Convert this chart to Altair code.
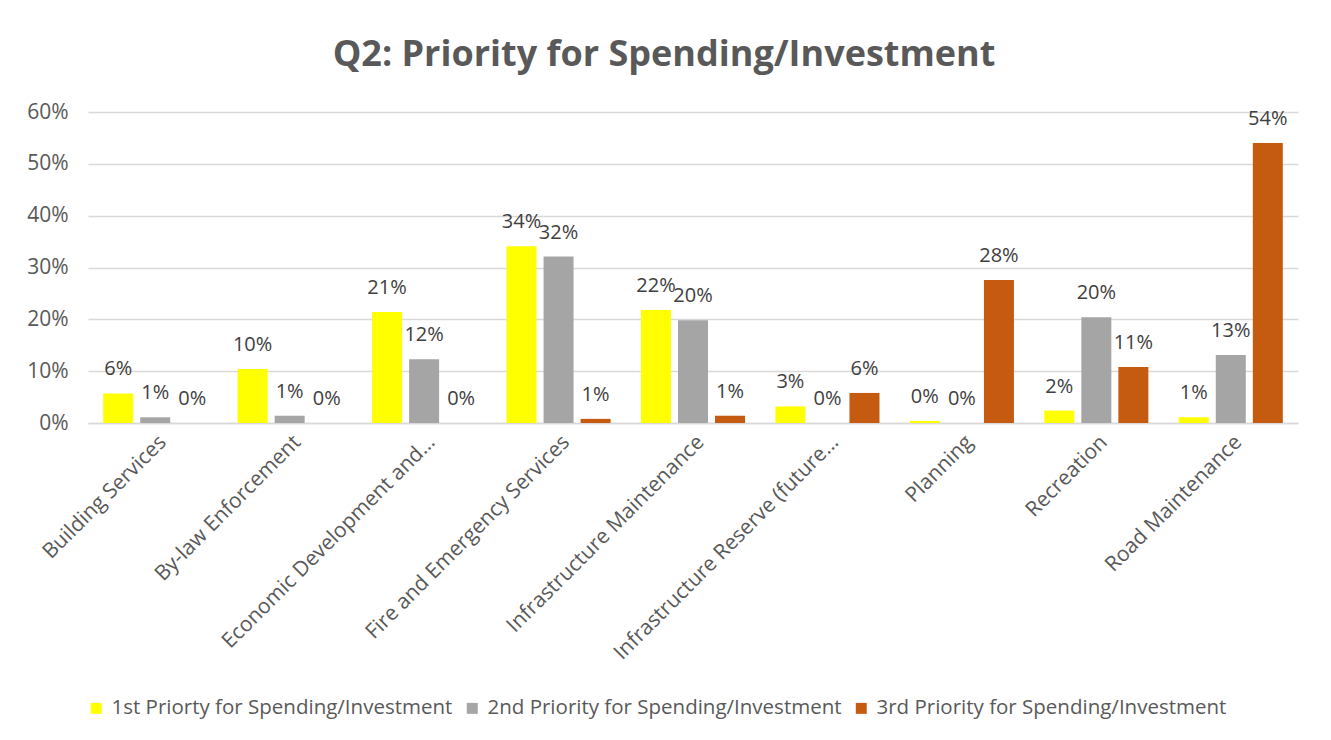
import altair as alt
import pandas as pd

categories = [
    "Building Services",
    "By-law Enforcement",
    "Economic Development and…",
    "Fire and Emergency Services",
    "Infrastructure Maintenance",
    "Infrastructure Reserve (future…",
    "Planning",
    "Recreation",
    "Road Maintenance",
]
series = [
    "1st Priorty for Spending/Investment",
    "2nd Priority for Spending/Investment",
    "3rd Priority for Spending/Investment",
]
first = [0.057, 0.104, 0.214, 0.341, 0.218, 0.032, 0.004, 0.024, 0.011]
second = [0.011, 0.014, 0.123, 0.321, 0.198, 0.0, 0.0, 0.204, 0.131]
third = [0.0, 0.0, 0.0, 0.008, 0.014, 0.058, 0.276, 0.108, 0.540]
colors = ["#FFFF00", "#A5A5A5", "#C55A11"]
ticks = [0, 0.1, 0.2, 0.3, 0.4, 0.5, 0.6]

rows = []
for vals, s in zip([first, second, third], series):
    for c, v in zip(categories, vals):
        rows.append({"category": c, "series": s, "value": v})
df = pd.DataFrame(rows)

FONT = "Open Sans"
TXT = "#595959"

x = alt.X("category:N", sort=categories, title=None,
          scale=alt.Scale(paddingInner=0, paddingOuter=0),
          axis=alt.Axis(labelAngle=315, labelFontSize=21, labelColor=TXT, labelFont=FONT,
                        ticks=False, domainColor="#D9D9D9", domainWidth=1.5,
                        labelPadding=8, labelLimit=400))
xo = alt.XOffset("series:N", sort=series,
                 scale=alt.Scale(paddingInner=0.19, paddingOuter=0.41))
y = alt.Y("value:Q", title=None,
          scale=alt.Scale(domain=[0, 0.6], nice=False),
          axis=alt.Axis(format=".0%", values=ticks,
                        labelFontSize=21, labelColor=TXT, labelFont=FONT, labelOverlap=False,
                        ticks=False, domain=False, gridColor="#D9D9D9", gridWidth=1.5,
                        labelPadding=20))
color = alt.Color("series:N", sort=series,
                  scale=alt.Scale(domain=series, range=colors),
                  legend=alt.Legend(title=None, orient="none", legendX=-2, legendY=586,
                                    direction="horizontal", symbolType="square",
                                    symbolSize=120, symbolStrokeWidth=0,
                                    labelFontSize=20.5, labelColor=TXT, labelFont=FONT,
                                    labelLimit=500, columnPadding=9, labelOffset=5))

bars = alt.Chart(df).mark_bar().encode(x=x, xOffset=xo, y=y, color=color)
labels = alt.Chart(df).mark_text(dy=-24, baseline="middle", fontSize=20, color="#404040",
                                 font=FONT).encode(
    x=x, xOffset=xo, y=y, text=alt.Text("value:Q", format=".0%"))

chart = alt.layer(bars, labels).properties(
    width=1210, height=311,
    autosize=alt.AutoSizeParams(type="none"),
    padding={"left": 80, "top": 104, "right": 25, "bottom": 309},
    title=alt.TitleParams("Q2: Priority for Spending/Investment", fontSize=36, fontWeight="bold",
                          color=TXT, font=FONT, anchor="middle", offset=27, dx=-29),
).configure(background="white").configure_view(strokeWidth=0, stroke="transparent")

chart.save("out.html", embed_options={"renderer": "svg", "actions": False})
